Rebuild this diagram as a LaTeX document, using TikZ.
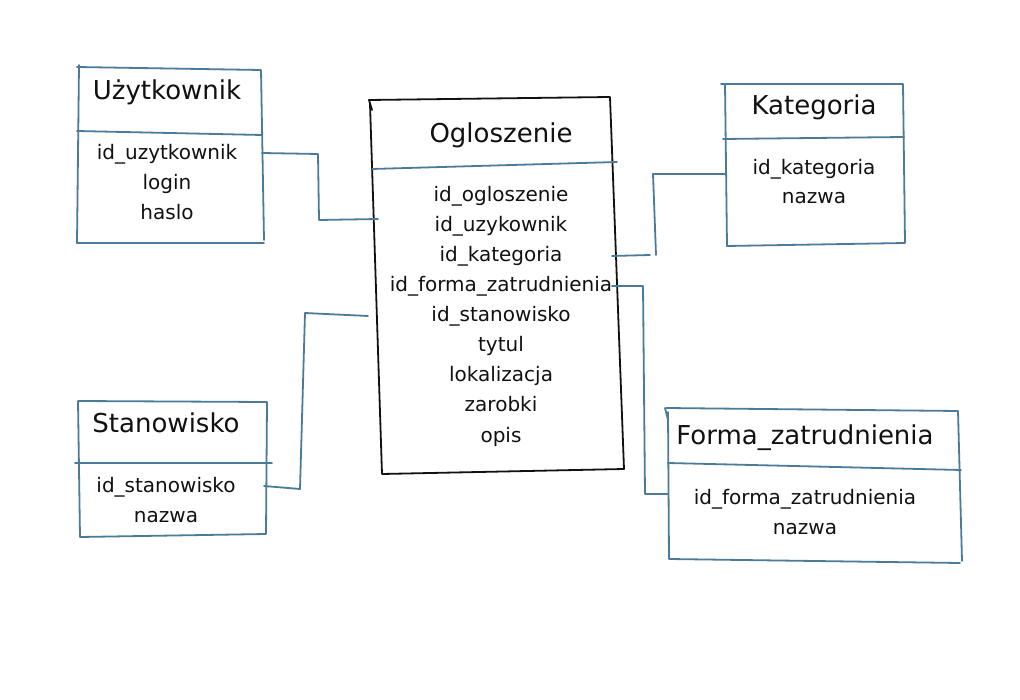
\documentclass[tikz,border=0pt]{standalone}
\usepackage{fontspec}
\setmainfont{DejaVu Sans}
\definecolor{edge}{HTML}{4A7C99}
\definecolor{ink}{HTML}{111111}
\begin{document}
\begin{tikzpicture}[x=1pt,y=-1pt,
  bline/.style={draw=edge,line width=1.8pt,line cap=round,line join=round},
  kline/.style={draw=ink,line width=1.8pt,line cap=round,line join=round},
  ttl/.style={text=ink,inner sep=0pt,anchor=base,font=\fontsize{26}{30}\selectfont},
  attr/.style={text=ink,inner sep=0pt,anchor=base,font=\fontsize{20}{24}\selectfont}]
\useasboundingbox[fill=white] (0,0) rectangle (1020,700);

% ---------- Uzytkownik ----------
\draw[bline] (79,65) -- (77,243) -- (264,243);
\draw[bline] (77,67) -- (261,70) -- (264,240);
\draw[bline] (77,131) -- (262,135);
\node[ttl] (uT) at (167,100) {Użytkownik};
\node[attr] (u1) at (167,159.5) {id\_uzytkownik};
\node[attr] (u2) at (167,189.5) {login};
\node[attr] (u3) at (167,219.5) {haslo};

% ---------- Ogloszenie ----------
\draw[kline] (369,100) -- (610,97) -- (624,469) -- (382,474) -- (370,104);
\draw[kline] (369,100) -- (372,110);
\draw[bline] (372,169) -- (617,162);
\node[ttl] (oT) at (501,143) {Ogloszenie};
\node[attr] (o1) at (501,202) {id\_ogloszenie};
\node[attr] (o2) at (501,232) {id\_uzykownik};
\node[attr] (o3) at (501,262) {id\_kategoria};
\node[attr] (o4) at (501,292) {id\_forma\_zatrudnienia};
\node[attr] (o5) at (501,322) {id\_stanowisko};
\node[attr] (o6) at (501,352) {tytul};
\node[attr] (o7) at (501,382) {lokalizacja};
\node[attr] (o8) at (501,412) {zarobki};
\node[attr] (o9) at (501,442) {opis};

% ---------- Kategoria ----------
\draw[bline] (721,84) -- (903,84) -- (905,243) -- (727,246) -- (725,84);
\draw[bline] (723,139) -- (904,137);
\node[ttl] (kT) at (814,114.5) {Kategoria};
\node[attr] (k1) at (814,174.5) {id\_kategoria};
\node[attr] (k2) at (814,204) {nazwa};

% ---------- Stanowisko ----------
\draw[bline] (78,401) -- (267,402) -- (266,534) -- (80,537) -- (78,401);
\draw[bline] (75,463) -- (272,463);
\node[ttl] (sT) at (166,432) {Stanowisko};
\node[attr] (s1) at (166,492) {id\_stanowisko};
\node[attr] (s2) at (166,522) {nazwa};

% ---------- Forma_zatrudnienia ----------
\draw[bline] (666,408) -- (958,411) -- (962,561);
\draw[bline] (668,412) -- (669,559) -- (960,563);
\draw[bline] (665,408) -- (668,420);
\draw[bline] (668,463) -- (961,470);
\node[ttl] (fT) at (805,444) {Forma\_zatrudnienia};
\node[attr] (f1) at (805,504.5) {id\_forma\_zatrudnienia};
\node[attr] (f2) at (805,534) {nazwa};

% ---------- connector end points ----------
\coordinate (cu1) at (262,153);
\coordinate (co2) at (378,219);
\coordinate (co3) at (612,256);
\coordinate (ck1) at (725,174);
\coordinate (co4) at (612,286);
\coordinate (cf1) at (668,494);
\coordinate (cs1) at (264,486);
\coordinate (co5) at (368,316);

% ---------- connectors ----------
\draw[bline] (cu1) -- (318,154) -- (319,220) -- (co2);
\draw[bline] (co3) -- (650,255);
\draw[bline] (656,255) -- (653,174) -- (ck1);
\draw[bline] (co4) -- (643,286) -- (645,494) -- (cf1);
\draw[bline] (cs1) -- (300,489) -- (305,313) -- (co5);
\end{tikzpicture}
\end{document}
